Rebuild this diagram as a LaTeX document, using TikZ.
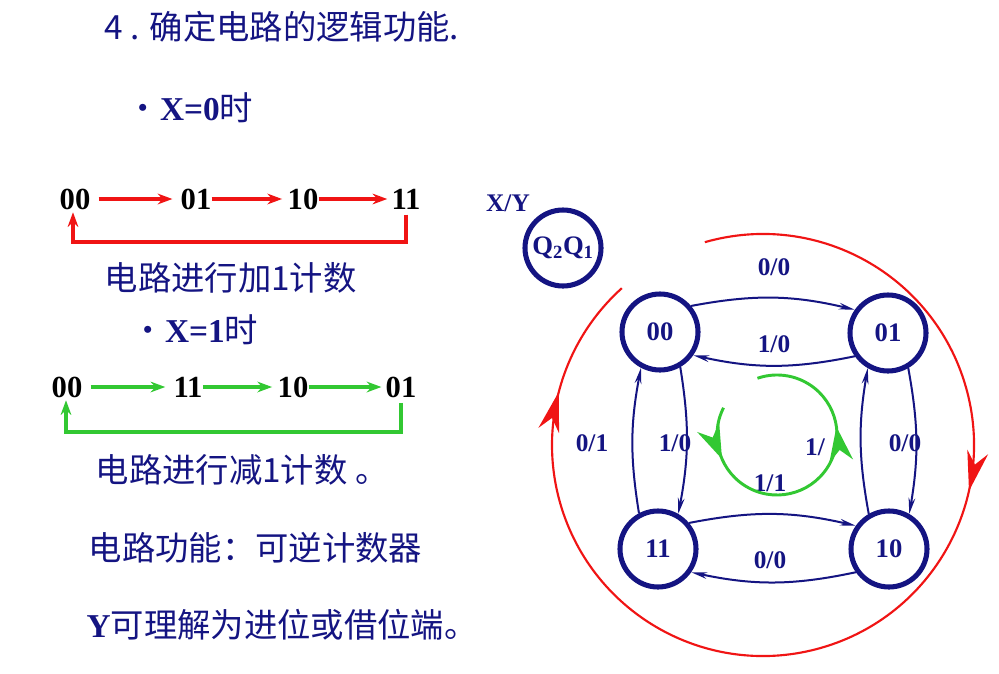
\documentclass[tikz,border=0pt]{standalone}
\usepackage{fontspec}
\setmainfont{Liberation Serif}
\newfontfamily\cjk{Noto Sans CJK SC}
\usetikzlibrary{arrows.meta,decorations.markings}
\definecolor{navy}{RGB}{20,20,130}
\definecolor{rd}{RGB}{240,20,20}
\definecolor{gr}{RGB}{50,200,50}
\begin{document}
\begin{tikzpicture}[x=0.75pt,y=-0.75pt,
  st/.style={circle,draw=navy,line width=3.8pt,minimum size=57pt,inner sep=0pt,font=\fontsize{20}{20}\selectfont\bfseries,text=navy},
  lab/.style={font=\fontsize{19}{19}\selectfont\bfseries,text=navy},
  tr/.style={draw=navy,line width=1.5pt,-{Stealth[length=12pt,width=5pt,fill=black]}},
  cj/.style={font=\cjk\fontsize{25}{25}\selectfont,text=navy,anchor=west},
  dig/.style={font=\fontsize{23}{23}\selectfont\bfseries,inner sep=0pt},
  ra/.style={draw=rd,line width=3pt,-{Stealth[length=11pt,width=8pt]}},
  ga/.style={draw=gr,line width=3pt,-{Stealth[length=11pt,width=8pt]}}]
\useasboundingbox (0,0) rectangle (999,674);
\fill[white] (0,0) rectangle (999,674);
% left texts
\node[cj] (t1) at (100,27) {4 . 确定电路的逻辑功能.};
\node[cj] (t2) at (122,108) {•{\rmfamily\bfseries X=0}时};
\node[dig] (a0) at (75,199) {00};
\node[dig] (a1) at (196,199) {01};
\node[dig] (a2) at (303,199) {10};
\node[dig] (a3) at (406,199) {11};
\draw[ra] (a0.east)++(8,0) -- ([xshift=-6]a1.west);
\draw[ra] (a1.east) -- ([xshift=-4]a2.west);
\draw[ra] (a2.east) -- ([xshift=-3]a3.west);
\coordinate (r0) at (73,242);
\draw[ra] ([yshift=-4]a3.south) |- (r0) -- ([yshift=-2]a0.south -| r0);
\node[cj] (t3) at (100,278) {电路进行加1计数};
\node[cj] (t4) at (127,330) {•{\rmfamily\bfseries X=1}时};
\node[dig] (b0) at (67,387) {00};
\node[dig] (b1) at (188,387) {11};
\node[dig] (b2) at (293,387) {10};
\node[dig] (b3) at (401,387) {01};
\draw[ga] (b0.east)++(8,0) -- ([xshift=-6]b1.west);
\draw[ga] (b1.east) -- ([xshift=-4]b2.west);
\draw[ga] (b2.east) -- ([xshift=-3]b3.west);
\coordinate (g0) at (66,432);
\draw[ga] ([yshift=-4]b3.south) |- (g0) -- ([yshift=-2]b0.south -| g0);
\node[cj] (t5) at (91,470) {电路进行减1计数 。};
\node[cj] (t6) at (84,548) {电路功能：可逆计数器};
\node[cj] (t7) at (82,625) {{\rmfamily\bfseries Y}可理解为进位或借位端。};
% state diagram
\node[lab] (xy) at (508,203) {X/Y};
\node[st] (q) at (563,248) {Q\textsubscript{2}Q\textsubscript{1}};
\node[st] (s00) at (660,332) {00};
\node[st] (s01) at (888,333) {01};
\node[st] (s11) at (658,549) {11};
\node[st] (s10) at (889,549) {10};
\draw[tr] (s00.40) to[bend left=12] (s01.145);
\draw[tr] (s01.215) to[bend left=12] (s00.325);
\draw[tr] (s00.300) to[bend left=10] (s11.60);
\draw[tr] (s11.118) to[bend left=10] (s00.242);
\draw[tr] (s01.300) to[bend left=10] (s10.60);
\draw[tr] (s10.120) to[bend left=10] (s01.240);
\draw[tr] (s11.40) to[bend left=12] (s10.145);
\draw[tr] (s10.215) to[bend left=12] (s11.325);
\node[lab] (l1) at (774,267) {0/0};
\node[lab] (l2) at (774,344) {1/0};
\node[lab] (l3) at (592,443) {0/1};
\node[lab] (l4) at (675,443) {1/0};
\node[lab] (l5) at (905,443) {0/0};
\node[lab] (l6) at (770,560) {0/0};
\node[lab] (l7) at (770,483) {1/1};
\node[lab] (l8) at (815,447) {1/};
% red big circle
\coordinate (rc) at (763,445);
\draw[rd,line width=1.6pt,postaction={decorate},decoration={markings,
  mark=at position 0.355 with {\arrow{Stealth[length=30pt,width=16pt,line width=0pt]}},
  mark=at position 0.9 with {\arrow{Stealth[length=30pt,width=16pt,line width=0pt]}}}]
  ([shift={(-106:211)}]rc) arc[start angle=-106,end angle=228,radius=211];
% green circle
\coordinate (gc) at (777,435);
\draw[gr,line width=2.2pt,postaction={decorate},decoration={markings,
  mark=at position 0.16 with {\arrow{Stealth[length=26pt,width=18pt,line width=0pt]}},
  mark=at position 0.68 with {\arrow{Stealth[length=26pt,width=18pt,line width=0pt]}}}]
  ([shift={(-153:60)}]gc) arc[start angle=-153,end angle=-469,radius=60];
\end{tikzpicture}
\end{document}
